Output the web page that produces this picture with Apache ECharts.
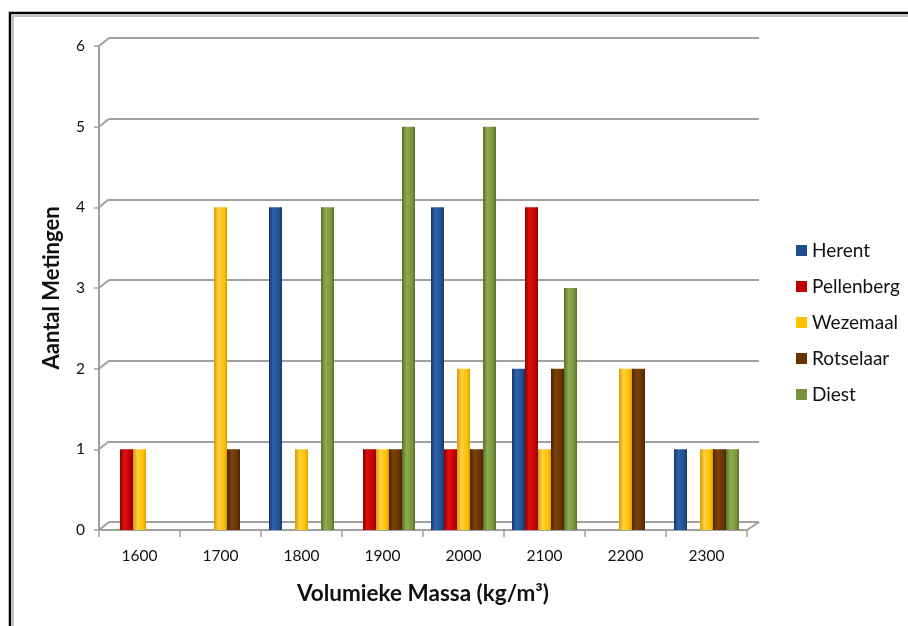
<!DOCTYPE html>
<html><head><meta charset="utf-8">
<script src="https://cdn.jsdelivr.net/npm/echarts@6/dist/echarts.min.js"></script>
<style>html,body{margin:0;padding:0;background:#fff}#c{width:908px;height:626px}</style>
</head><body><div id="c"></div>
<script>
const categories = ['1600','1700','1800','1900','2000','2100','2200','2300'];
const seriesNames = ['Herent','Pellenberg','Wezemaal','Rotselaar','Diest'];
const herent     = [0,0,4,0,4,2,0,1];
const pellenberg = [1,0,0,1,1,4,0,0];
const wezemaal   = [1,4,1,1,2,1,2,1];
const rotselaar  = [0,1,0,1,1,2,2,1];
const diest      = [0,0,4,5,5,3,0,1];
const yTicks = [0,1,2,3,4,5,6];

const values = [herent, pellenberg, wezemaal, rotselaar, diest];
const colors = ['#1F4E8C','#C00000','#FFC000','#663300','#77933C'];
const darks  = ['#163a6a','#8f0000','#d99a00','#4a2400','#56702a'];
const lights = ['#2d63ad','#e01010','#ffd040','#7d4208','#8fab50'];

const chart = echarts.init(document.getElementById('c'), null, {renderer:'canvas'});
const FONT = 'Lato, "Open Sans", sans-serif';

const series = values.map((v,i)=>({
  name: seriesNames[i], type:'bar', xAxisIndex:0, yAxisIndex:0,
  data: v, barWidth: 13, barGap:'0%',
  itemStyle:{ color: new echarts.graphic.LinearGradient(0,0,1,0,[
    {offset:0,color:darks[i]},{offset:0.35,color:lights[i]},{offset:0.8,color:colors[i]},{offset:1,color:darks[i]}]) },
  emphasis:{disabled:true}
}));
series.push({type:'bar', xAxisIndex:1, yAxisIndex:1, data: categories.map(()=>null), silent:true});

chart.setOption({
  animation:false,
  backgroundColor:'#fff',
  grid:[
    {left:99, right:161, top:46, bottom:96},
    {left:109, right:149, top:38, bottom:104}
  ],
  xAxis:[
    {type:'category', gridIndex:0, data:categories,
     axisLine:{show:true, lineStyle:{color:'#a0a0a0', width:2}},
     axisTick:{show:true, length:7, lineStyle:{color:'#a0a0a0', width:1.5}},
     axisLabel:{color:'#111', fontSize:15.5, fontFamily:FONT, margin:18},
     name:'Volumieke Massa (kg/m³)', nameLocation:'middle', nameGap:52,
     nameTextStyle:{fontSize:22.5, fontWeight:'bold', color:'#111', fontFamily:FONT}
    },
    {type:'category', gridIndex:1, data:categories, show:false}
  ],
  yAxis:[
    {type:'value', gridIndex:0, min:0, max:6, interval:1,
     axisLine:{show:true, lineStyle:{color:'#a0a0a0', width:2}},
     axisTick:{show:true, length:5, lineStyle:{color:'#a0a0a0', width:1.5}},
     splitLine:{show:false},
     axisLabel:{color:'#111', fontSize:15.5, fontFamily:FONT, margin:14},
     name:'Aantal Metingen', nameLocation:'middle', nameGap:36, nameRotate:90,
     nameTextStyle:{fontSize:22, fontWeight:'bold', color:'#111', fontFamily:FONT}
    },
    {type:'value', gridIndex:1, min:0, max:6, interval:1,
     axisLine:{show:false}, axisTick:{show:false}, axisLabel:{show:false},
     splitLine:{show:true, lineStyle:{color:'#a0a0a0', width:2}}
    }
  ],
  legend:{
    orient:'vertical', left:791, top:236, itemGap:17,
    itemWidth:11, itemHeight:11, icon:'rect',
    textStyle:{fontSize:19, color:'#111', fontFamily:FONT, padding:[0,0,0,0]},
    data: seriesNames.map((n,i)=>({name:n, itemStyle:{color:colors[i]}}))
  },
  series: series
});

const gfx = [
  {type:'rect', silent:true, shape:{x:10, y:13, width:1000, height:700}, style:{fill:'none', stroke:'#000', lineWidth:2.5}},
  {type:'rect', silent:true, shape:{x:13, y:16, width:1000, height:700}, style:{fill:'none', stroke:'#b0b0b0', lineWidth:1.5}}
];
const r0 = chart.getModel().getComponent('grid',0).coordinateSystem.getRect();
const r1 = chart.getModel().getComponent('grid',1).coordinateSystem.getRect();
yTicks.forEach(t=>{
  const f = chart.convertToPixel({xAxisIndex:0,yAxisIndex:0},[0,t]);
  const b = chart.convertToPixel({xAxisIndex:1,yAxisIndex:1},[0,t]);
  gfx.push({type:'line', silent:true, shape:{x1:r0.x, y1:f[1], x2:r1.x, y2:b[1]}, style:{stroke:'#a0a0a0', lineWidth:2}});
});
gfx.push({type:'line', silent:true, shape:{x1:r0.x+r0.width, y1:r0.y+r0.height, x2:r1.x+r1.width, y2:r1.y+r1.height}, style:{stroke:'#a0a0a0', lineWidth:2}});
chart.setOption({graphic: gfx});
</script></body></html>
